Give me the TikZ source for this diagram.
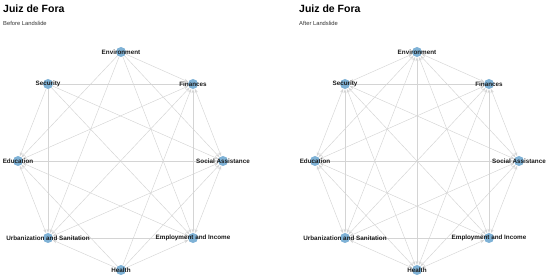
\documentclass[tikz,border=0pt]{standalone}
\usepackage{fontspec}
\setmainfont{Liberation Sans}
\usetikzlibrary{arrows.meta,backgrounds}
\definecolor{dotblue}{HTML}{7FB2D6}
\definecolor{edgegray}{HTML}{D4D4D4}
\definecolor{txtdark}{HTML}{1A1A1A}
\tikzset{
  dot/.style={circle,fill=dotblue,minimum size=10pt,inner sep=0pt},
  lbl/.style={font=\fontsize{6.3}{7}\selectfont\bfseries,text=txtdark,inner sep=0pt},
  ttl/.style={font=\fontsize{10.5}{11}\selectfont\bfseries,text=black,anchor=west,inner sep=0pt},
  sub/.style={font=\fontsize{5.8}{6}\selectfont,text=black!80,anchor=west,inner sep=0pt},
  edg/.style={-{Stealth[length=4pt,width=3pt]},line width=0.45pt,draw=edgegray},
  bedg/.style={{Stealth[length=4pt,width=3pt]}-{Stealth[length=4pt,width=3pt]},line width=0.45pt,draw=edgegray},
}
\begin{document}
\begin{tikzpicture}[x=1pt,y=-1pt]
  \useasboundingbox (0,0) rectangle (550,280);
  % titles
  \node[ttl] (t1) at (3,9) {Juiz de Fora};
  \node[sub] (s1) at (3,23) {Before Landslide};
  \node[ttl] (t2) at (299,9) {Juiz de Fora};
  \node[sub] (s2) at (299,23) {After Landslide};
  % before landslide
  \node[dot] (env) at (121,52) {};
  \node[dot] (sec) at (48,84) {};
  \node[dot] (fin) at (193,84) {};
  \node[dot] (edu) at (18,161) {};
  \node[dot] (soc) at (223,161) {};
  \node[dot] (urb) at (48,238) {};
  \node[dot] (emp) at (193,238) {};
  \node[dot] (hea) at (121,270) {};
  % after landslide
  \node[dot] (aenv) at (417,52) {};
  \node[dot] (asec) at (345,84) {};
  \node[dot] (afin) at (489,84) {};
  \node[dot] (aedu) at (315,161) {};
  \node[dot] (asoc) at (519,161) {};
  \node[dot] (aurb) at (345,238) {};
  \node[dot] (aemp) at (489,238) {};
  \node[dot] (ahea) at (417,270) {};
  % labels
  \foreach \n/\t in {env/Environment,sec/Security,fin/Finances,edu/Education,soc/Social Assistance,urb/Urbanization and Sanitation,emp/Employment and Income,hea/Health}{
    \node[lbl] at (\n) {\t};
    \node[lbl] at (a\n) {\t};
  }
  \begin{scope}[on background layer]
    % before: sources
    \foreach \s in {env,sec,hea}
      \foreach \t in {fin,soc,emp,urb,edu}
        \draw[edg] (\s) -- (\t);
    \draw[bedg] (fin) -- (soc); \draw[bedg] (fin) -- (emp);
    \draw[bedg] (fin) -- (urb); \draw[bedg] (fin) -- (edu);
    \draw[bedg] (soc) -- (emp); \draw[bedg] (soc) -- (urb);
    \draw[bedg] (soc) -- (edu); \draw[bedg] (emp) -- (urb);
    \draw[bedg] (emp) -- (edu); \draw[bedg] (urb) -- (edu);
    % after: all pairs
    \foreach \s/\rest in {env/{sec,fin,edu,soc,urb,emp,hea},sec/{fin,edu,soc,urb,emp,hea},fin/{edu,soc,urb,emp,hea},edu/{soc,urb,emp,hea},soc/{urb,emp,hea},urb/{emp,hea},emp/{hea}}
      \foreach \t in \rest
        \draw[bedg] (a\s) -- (a\t);
  \end{scope}
\end{tikzpicture}
\end{document}
